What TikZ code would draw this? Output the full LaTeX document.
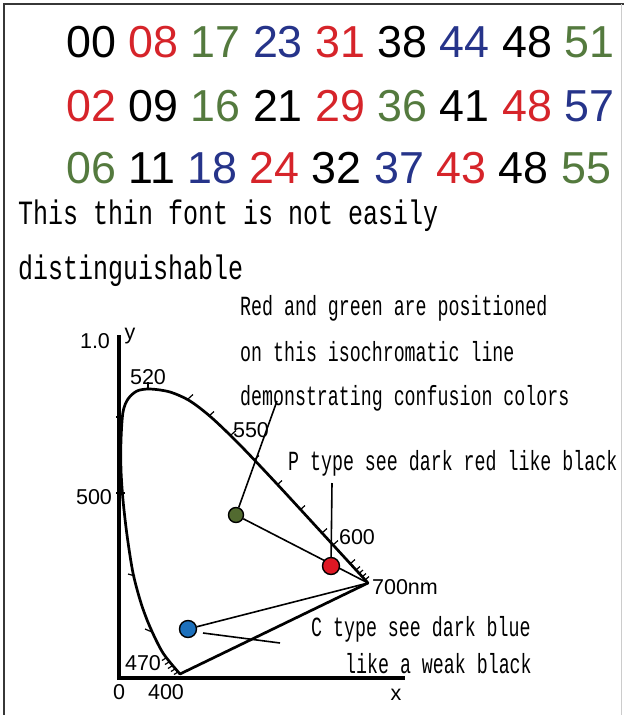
\documentclass[tikz,border=0pt]{standalone}
\usepackage{fontspec}
\usepackage{graphicx}
\setmainfont{Liberation Sans}
\newfontfamily\thinfont{Liberation Mono}
\definecolor{nred}{RGB}{214,36,42}
\definecolor{ngreen}{RGB}{84,122,62}
\definecolor{nblue}{RGB}{38,52,138}
\definecolor{dotgreen}{RGB}{82,106,48}
\definecolor{dotred}{RGB}{222,24,36}
\definecolor{dotblue}{RGB}{28,112,188}
\definecolor{framegray}{RGB}{55,55,55}
\newcommand\thintext[3]{\scalebox{#1}[1]{\fontsize{#2}{#2}\thinfont #3}}
\pgfdeclarelayer{bglayer}
\pgfsetlayers{bglayer,main}
\begin{document}
\begin{tikzpicture}[x=1pt,y=-1pt,
 numrow/.style={anchor=base west, inner sep=0pt, font=\fontsize{44.8}{50}\selectfont},
 toptext/.style={anchor=base west, inner sep=0pt},
 note/.style={anchor=base west, inner sep=0pt},
 axlabel/.style={inner sep=0pt, font=\fontsize{21.5}{24}\selectfont},
 locus/.style={line width=2.7pt, line join=round, line cap=round},
 axisline/.style={line width=4pt, line join=miter},
 leader/.style={line width=1.6pt},
 tickmark/.style={line width=1.2pt},
 cdot/.style={circle, draw=black, line width=1.4pt, inner sep=0pt, minimum size=#1},
]
\useasboundingbox (0,0) rectangle (624,715);
\begin{pgfonlayer}{bglayer}
\fill[white] (0,0) rectangle (624,715);
\end{pgfonlayer}
% frame
\draw[framegray, line width=2.5pt] (4,715) -- (4,4) -- (624,4);
\draw[black!20, line width=1pt] (621,4) -- (621,715);

% number rows
\node[numrow] (r1) at (66,57) {00 \textcolor{nred}{08} \textcolor{ngreen}{17} \textcolor{nblue}{23} \textcolor{nred}{31} 38 \textcolor{nblue}{44} 48 \textcolor{ngreen}{51}};
\node[numrow] (r2) at (66,121) {\textcolor{nred}{02} 09 \textcolor{ngreen}{16} 21 \textcolor{nred}{29} \textcolor{ngreen}{36} 41 \textcolor{nred}{48} \textcolor{nblue}{57}};
\node[numrow] (r3) at (66,183) {\textcolor{ngreen}{06} 11 \textcolor{nblue}{18} \textcolor{nred}{24} 32 \textcolor{nblue}{37} \textcolor{nred}{43} 48 \textcolor{ngreen}{55}};

% thin text
\node[toptext] (t1) at (18,224) {\thintext{0.735}{34}{This thin font is not easily}};
\node[toptext] (t2) at (18,279) {\thintext{0.735}{34}{distinguishable}};

% notes
\node[note] (n1) at (240,315) {\thintext{0.66}{27.7}{Red and green are positioned}};
\node[note] (n2) at (240,361) {\thintext{0.66}{27.7}{on this isochromatic line}};
\node[note] (n3) at (240,405) {\thintext{0.66}{27.7}{demonstrating confusion colors}};
\node[note] (n4) at (288,470) {\thintext{0.66}{27.7}{P type see dark red like black}};
\node[note] (n5) at (311,636) {\thintext{0.66}{27.7}{C type see dark blue}};
\node[note] (n6) at (345,673) {\thintext{0.66}{27.7}{like a weak black}};

% axes
\draw[axisline] (119,335) -- (119,678) -- (405,678);

% spectral locus
\coordinate (c400) at (180,674);
\coordinate (c700) at (368,583);
\draw[locus] plot[smooth, tension=0.5] coordinates {(368,583) (323,534) (277,484) (240,445) (212,418) (190,401) (170,392) (150,389) (137,391) (128,399) (123,412) (121,440) (121,470) (123,500) (127,535) (133,573) (141,603) (150,627) (163,653) (180,674)};
\draw[locus] (c400) -- (c700);

% ticks
\foreach \px/\py in {188/399, 209/416, 231/435, 254/460, 277/485, 300/510, 322/533, 333/545, 350/564}
  \draw[tickmark] (\px,\py) -- ++(5,-4.5);
\foreach \px/\py in {356/570, 359/573.5, 362/577, 365/580}
  \draw[tickmark] (\px,\py) -- ++(4,-3.5);
\draw[tickmark] (148,389) -- (148,382);
\draw[tickmark] (125,493) -- (116,493);
\draw[tickmark] (122,417) -- (116,417);
\draw[tickmark] (135,576) -- (128,574);
\draw[tickmark] (152,632) -- (145,629);
\foreach \px/\py in {166/658, 169/662, 172/666, 175/669, 178/672}
  \draw[tickmark] (\px,\py) -- ++(-4,2.5);

% axis labels
\node[axlabel] (l10) at (95,341) {1.0};
\node[axlabel] (ly) at (130,336) {y};
\node[axlabel] (l520) at (148,377) {520};
\node[axlabel] (l550) at (251,430) {550};
\node[axlabel] (l500) at (94,497) {500};
\node[axlabel] (l600) at (357,537) {600};
\node[axlabel] (l700) at (405,587) {700nm};
\node[axlabel] (l470) at (143,663) {470};
\node[axlabel] (l0) at (119,692) {0};
\node[axlabel] (l400) at (166,692) {400};
\node[axlabel] (lx) at (396,695) {x};

% dots
\node[cdot=15pt, fill=dotgreen] (g) at (236,515) {};
\node[cdot=17pt, fill=dotred] (r) at (331,566) {};
\node[cdot=17pt, fill=dotblue] (b) at (188,629) {};

% connectors (drawn under the dots)
\coordinate (gl) at (277,401);
\coordinate (pl) at (332,483);
\coordinate (cl1) at (203,633);
\coordinate (cl2) at (280,643);
\begin{pgfonlayer}{bglayer}
\draw[leader] (g) -- (c700);
\draw[leader] (b) -- (c700);
\draw[leader] (gl) -- (g);
\draw[leader] (pl) -- (r);
\draw[leader] (cl1) -- (cl2);
\end{pgfonlayer}
\end{tikzpicture}
\end{document}
